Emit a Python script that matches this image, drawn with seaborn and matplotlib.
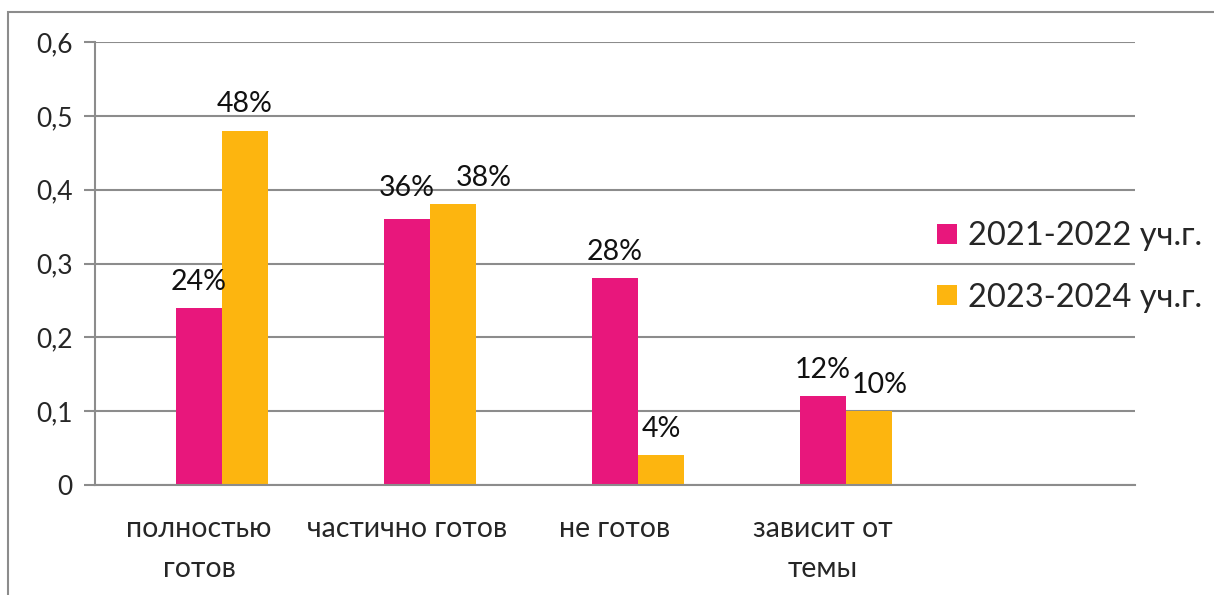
import matplotlib
matplotlib.use("Agg")
import matplotlib.pyplot as plt
import seaborn as sns
import pandas as pd
from matplotlib.patches import Rectangle

categories = ["полностью\nготов", "частично готов", "не готов", "зависит от\nтемы", ""]
series_names = ["(пусто)", "2021-2022 уч.г.", "2023-2024 уч.г."]
values_2122 = [0.24, 0.36, 0.28, 0.12]
values_2324 = [0.48, 0.38, 0.04, 0.10]
labels_2122 = ["24%", "36%", "28%", "12%"]
labels_2324 = ["48%", "38%", "4%", "10%"]
yticks = [0, 0.1, 0.2, 0.3, 0.4, 0.5, 0.6]
ytick_labels = ["0", "0,1", "0,2", "0,3", "0,4", "0,5", "0,6"]

colors = ["#FFFFFF", "#E8177C", "#FDB50F"]
grid_c = "#8C8C8C"

sns.set_style("white")
plt.rcParams["font.family"] = ["Lato", "DejaVu Sans"]

rows = []
for c, v in zip(categories[:4], values_2122):
    rows.append({"cat": c, "val": v, "series": series_names[1]})
for c, v in zip(categories[:4], values_2324):
    rows.append({"cat": c, "val": v, "series": series_names[2]})
df = pd.DataFrame(rows)

fig = plt.figure(figsize=(12.14, 5.95), dpi=100)
ax = fig.add_axes([95/1214, 1 - 485/595, (1135 - 95)/1214, (485 - 42)/595])

sns.barplot(data=df, x="cat", y="val", hue="series", order=categories,
            hue_order=series_names, palette=colors, width=0.663,
            saturation=1, ax=ax, legend=True, errorbar=None, linewidth=0)

conts = [c for c in ax.containers if len(c) > 0]
all_anns = []
for cont, labs in zip(conts, [labels_2122, labels_2324]):
    anns = ax.bar_label(cont, labels=labs, padding=9.5, fontsize=20.5, color="#111111")
    all_anns.append(anns)

# label nudges (as the original layout avoids overlaps)
all_anns[0][1].xyann = (0, 13)
all_anns[1][1].xyann = (22, 9.5)
all_anns[1][3].xyann = (8, 9.5)

ax.set_ylim(0, 0.6)
ax.set_xlim(-0.5, 4.5)
ax.set_yticks(yticks)
ax.set_yticklabels(ytick_labels, fontsize=19)
ax.set_xticks(range(5))
ax.set_xticklabels(categories, fontsize=20.5, linespacing=1.7)
ax.set_xticks([i - 0.5 for i in range(6)], minor=True)
ax.tick_params(axis="x", which="major", length=0, pad=22)
ax.tick_params(axis="x", which="minor", length=8, width=1.5, color=grid_c, direction="out")
ax.tick_params(axis="y", length=8, width=1.5, color=grid_c, direction="out", pad=8, left=True)
ax.set_xlabel("")
ax.set_ylabel("")

ax.yaxis.grid(True, color=grid_c, linewidth=1.5)
ax.set_axisbelow(True)
for s in ["top", "right"]:
    ax.spines[s].set_visible(False)
for s in ["left", "bottom"]:
    ax.spines[s].set_color(grid_c)
    ax.spines[s].set_linewidth(1.5)

handles, labs = ax.get_legend_handles_labels()
ax.legend_.remove()
pairs = [(h, l) for h, l in zip(handles, labs) if l in series_names[1:]]
fig.legend([p[0] for p in pairs], [p[1] for p in pairs], loc="center left",
           bbox_to_anchor=(908/1214, 1 - 267/595),
           frameon=False, fontsize=23.5, handlelength=0.6, handleheight=0.6,
           handletextpad=0.35, labelspacing=0.95)

fig.patches.append(Rectangle((8/1214, -0.1), 1.2, 1 - 12/595 + 0.1,
                             transform=fig.transFigure, fill=False,
                             edgecolor=grid_c, linewidth=1.5))

fig.savefig("out.png", dpi=100)
